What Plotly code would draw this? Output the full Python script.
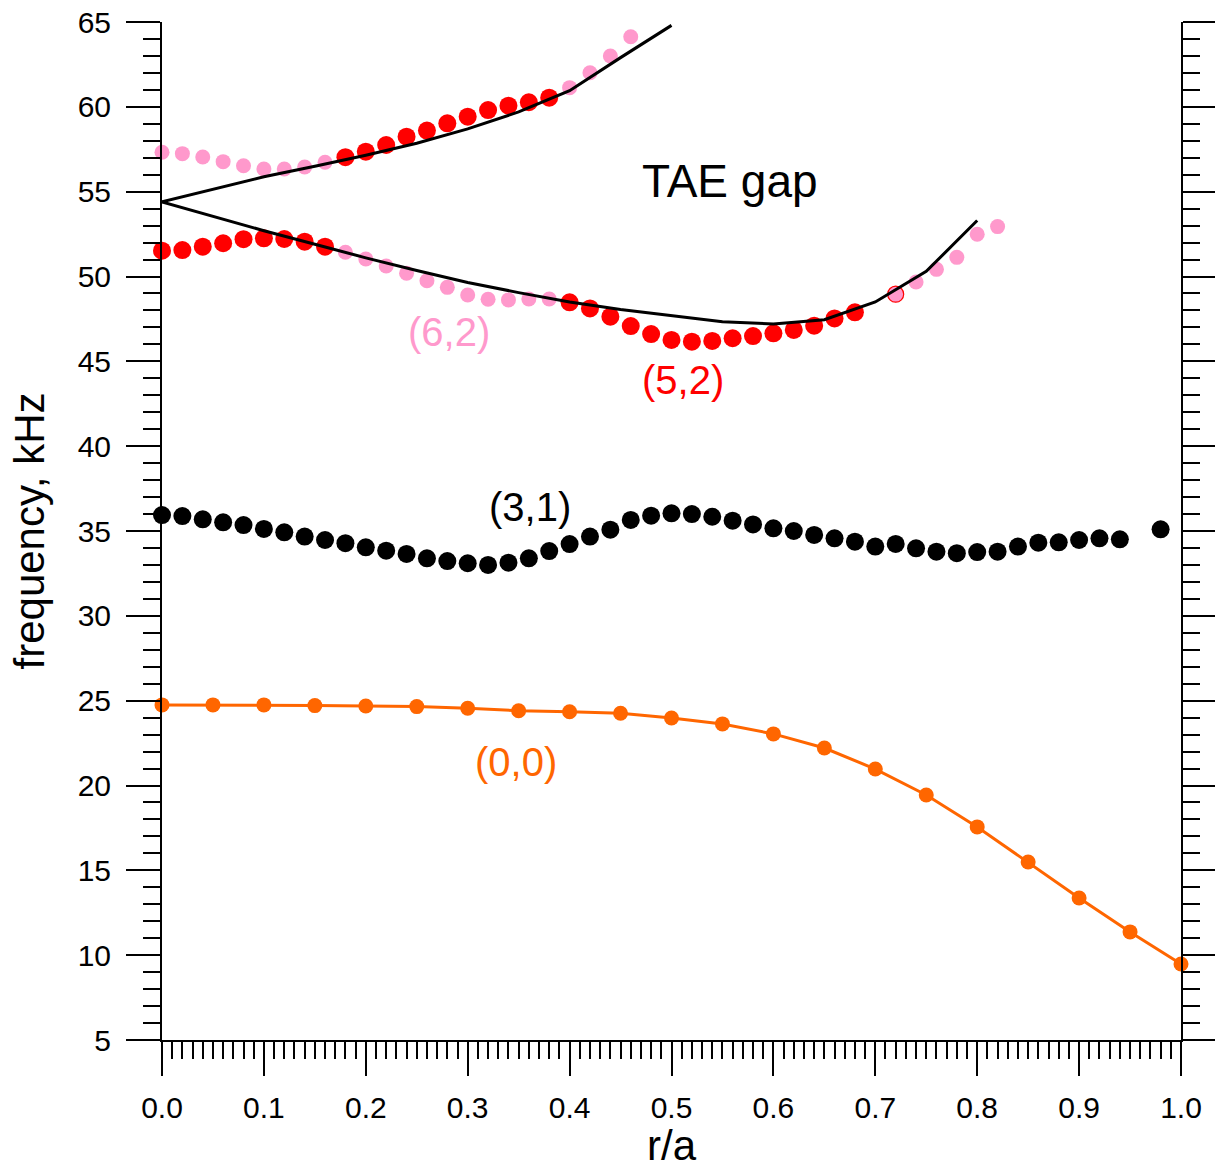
import plotly.graph_objects as go

# ---- data ----
x00 = [0.0, 0.05, 0.10, 0.15, 0.20, 0.25, 0.30, 0.35, 0.40, 0.45, 0.50,
       0.55, 0.60, 0.65, 0.70, 0.75, 0.80, 0.85, 0.90, 0.95, 1.00]
f00 = [24.75, 24.75, 24.75, 24.71, 24.69, 24.65, 24.55, 24.41, 24.35, 24.26, 23.98,
       23.63, 23.04, 22.21, 20.97, 19.44, 17.56, 15.49, 13.37, 11.37, 9.48]

x31 = [0.00, 0.02, 0.04, 0.06, 0.08, 0.10, 0.12, 0.14, 0.16, 0.18, 0.20, 0.22,
       0.24, 0.26, 0.28, 0.30, 0.32, 0.34, 0.36, 0.38, 0.40, 0.42, 0.44, 0.46,
       0.48, 0.50, 0.52, 0.54, 0.56, 0.58, 0.60, 0.62, 0.64, 0.66, 0.68, 0.70,
       0.72, 0.74, 0.76, 0.78, 0.80, 0.82, 0.84, 0.86, 0.88, 0.90, 0.92, 0.94, 0.98]
f31 = [35.94, 35.88, 35.69, 35.51, 35.35, 35.12, 34.92, 34.67, 34.47, 34.28, 34.04, 33.84,
       33.65, 33.39, 33.23, 33.10, 33.00, 33.13, 33.39, 33.82, 34.23, 34.67, 35.08, 35.65,
       35.90, 36.04, 36.00, 35.84, 35.61, 35.39, 35.16, 35.00, 34.77, 34.57, 34.37, 34.08,
       34.24, 33.98, 33.78, 33.69, 33.76, 33.78, 34.08, 34.31, 34.33, 34.47, 34.57, 34.51, 35.10]

# upper branch dots
xup_pink1 = [0.00, 0.02, 0.04, 0.06, 0.08, 0.10, 0.12, 0.14, 0.16]
fup_pink1 = [57.32, 57.24, 57.04, 56.77, 56.53, 56.34, 56.34, 56.45, 56.73]
xup_red = [0.18, 0.20, 0.22, 0.24, 0.26, 0.28, 0.30, 0.32, 0.34, 0.36, 0.38]
fup_red = [57.03, 57.36, 57.75, 58.24, 58.60, 59.03, 59.42, 59.81, 60.07, 60.27, 60.54]
xup_pink2 = [0.40, 0.42, 0.44, 0.46]
fup_pink2 = [61.13, 62.01, 63.00, 64.13]

# lower branch dots
xlo_red1 = [0.00, 0.02, 0.04, 0.06, 0.08, 0.10, 0.12, 0.14, 0.16]
flo_red1 = [51.52, 51.56, 51.76, 51.96, 52.20, 52.25, 52.21, 52.05, 51.76]
xlo_pink1 = [0.18, 0.20, 0.22, 0.24, 0.26, 0.28, 0.30, 0.32, 0.34, 0.36, 0.38]
flo_pink1 = [51.43, 51.03, 50.62, 50.19, 49.75, 49.36, 48.91, 48.66, 48.62, 48.67, 48.67]
xlo_red2 = [0.40, 0.42, 0.44, 0.46, 0.48, 0.50, 0.52, 0.54, 0.56, 0.58, 0.60,
            0.62, 0.64, 0.66, 0.68]
flo_red2 = [48.48, 48.12, 47.63, 47.08, 46.61, 46.26, 46.16, 46.20, 46.36, 46.49, 46.65,
            46.85, 47.10, 47.53, 47.89]
xlo_mix = [0.72]
flo_mix = [48.96]
xlo_pink2 = [0.74, 0.76, 0.78, 0.80, 0.82]
flo_pink2 = [49.68, 50.42, 51.13, 52.49, 52.94]

# TAE gap boundaries
xgap_up = [0.0, 0.05, 0.10, 0.15, 0.20, 0.25, 0.30, 0.35, 0.40, 0.45, 0.50]
fgap_up = [54.4, 55.15, 55.88, 56.5, 57.15, 57.85, 58.7, 59.7, 60.95, 62.9, 64.8]
xgap_lo = [0.0, 0.05, 0.10, 0.15, 0.20, 0.25, 0.30, 0.35, 0.40, 0.45, 0.50,
           0.55, 0.60, 0.65, 0.70, 0.75, 0.80]
fgap_lo = [54.4, 53.55, 52.7, 51.9, 51.1, 50.35, 49.65, 49.05, 48.5, 48.05, 47.7,
           47.33, 47.2, 47.45, 48.5, 50.3, 53.3]

x_ticks = [0.0, 0.1, 0.2, 0.3, 0.4, 0.5, 0.6, 0.7, 0.8, 0.9, 1.0]
x_ticklabels = ["0.0", "0.1", "0.2", "0.3", "0.4", "0.5", "0.6", "0.7", "0.8", "0.9", "1.0"]
y_ticks = [5, 10, 15, 20, 25, 30, 35, 40, 45, 50, 55, 60, 65]

labels = ["TAE gap", "(6,2)", "(5,2)", "(3,1)", "(0,0)"]
label_x = [0.557, 0.282, 0.511, 0.361, 0.347]
label_y = [55.6, 46.7, 43.9, 36.4, 21.4]
label_colors = ["black", "#FF99CC", "#FF0000", "black", "#FF6600"]
label_sizes = [46, 40, 40, 40, 40]

PINK = "#FF99CC"
RED = "#FF0000"
ORANGE = "#FF6600"
FONT = "Liberation Sans, Arial, sans-serif"

fig = go.Figure()


def dots(x, y, color, size, line=None):
    fig.add_trace(go.Scatter(
        x=x, y=y, mode="markers", cliponaxis=False, showlegend=False,
        marker=dict(color=color, size=size,
                    line=line if line else dict(width=0))))


dots(x31, f31, "black", 18)
dots(xup_pink1, fup_pink1, PINK, 15)
dots(xup_red, fup_red, RED, 18)
dots(xup_pink2, fup_pink2, PINK, 15)
dots(xlo_red1, flo_red1, RED, 18)
dots(xlo_pink1, flo_pink1, PINK, 15)
dots(xlo_red2, flo_red2, RED, 18)
dots(xlo_pink2, flo_pink2, PINK, 15)
dots(xlo_mix, flo_mix, PINK, 16, dict(color=RED, width=1.2))

for xs, ys in [(xgap_up, fgap_up), (xgap_lo, fgap_lo)]:
    fig.add_trace(go.Scatter(x=xs, y=ys, mode="lines", cliponaxis=False,
                             showlegend=False,
                             line=dict(color="black", width=3)))

fig.add_trace(go.Scatter(x=x00, y=f00, mode="lines+markers", cliponaxis=False,
                         showlegend=False,
                         line=dict(color=ORANGE, width=3),
                         marker=dict(color=ORANGE, size=15)))

# invisible trace for right axis
fig.add_trace(go.Scatter(x=[0], y=[5], yaxis="y2", mode="markers",
                         marker=dict(opacity=0), showlegend=False, hoverinfo="skip"))

for t, xx, yy, c, s in zip(labels, label_x, label_y, label_colors, label_sizes):
    fig.add_annotation(x=xx, y=yy, text=t, showarrow=False,
                       font=dict(family=FONT, size=s, color=c),
                       xanchor="center", yanchor="middle")

axis_common = dict(showline=True, linecolor="black", linewidth=2,
                   ticks="outside", tickcolor="black", tickwidth=2, ticklen=34,
                   showgrid=False, zeroline=False, automargin=False)

fig.update_layout(
    width=1215, height=1169,
    margin=dict(l=162, r=34, t=22, b=129, pad=0),
    paper_bgcolor="white", plot_bgcolor="white",
    font=dict(family=FONT, color="black"),
    xaxis=dict(range=[0, 1], tickvals=x_ticks, ticktext=x_ticklabels,
               tickfont=dict(size=30), ticklabelstandoff=6,
               minor=dict(ticks="outside", dtick=0.01, ticklen=17,
                          tickwidth=2, tickcolor="black"),
               title=dict(text="r/a", font=dict(size=42), standoff=10),
               **axis_common),
    yaxis=dict(range=[5, 65], tickvals=y_ticks,
               tickfont=dict(size=30), ticklabelstandoff=9,
               minor=dict(ticks="outside", dtick=1, ticklen=17,
                          tickwidth=2, tickcolor="black"),
               title=dict(text="frequency, kHz", font=dict(size=42), standoff=20),
               **axis_common),
    yaxis2=dict(range=[5, 65], tickvals=y_ticks, overlaying="y", side="right",
                showticklabels=False,
                minor=dict(ticks="outside", dtick=1, ticklen=17,
                           tickwidth=2, tickcolor="black"),
                **axis_common),
)

fig.write_html("out.html")
